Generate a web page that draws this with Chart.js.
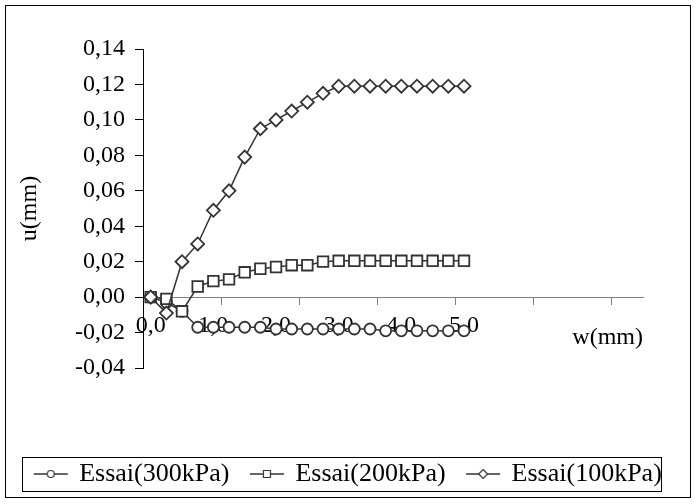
<!DOCTYPE html>
<html>
<head>
<meta charset="utf-8">
<script src="https://cdn.jsdelivr.net/npm/chart.js@4.4.1/dist/chart.umd.min.js"></script>
<style>
  html, body { margin: 0; padding: 0; background: #fff; }
  #wrap { width: 696px; height: 504px; }
</style>
</head>
<body>
<div id="wrap"><canvas id="chart" width="696" height="504"></canvas></div>
<script>
// horizontal displacement w (mm)
const wValues = [0, 0.25, 0.5, 0.75, 1.0, 1.25, 1.5, 1.75, 2.0, 2.25, 2.5,
                 2.75, 3.0, 3.25, 3.5, 3.75, 4.0, 4.25, 4.5, 4.75, 5.0];
// vertical displacement u (mm) per normal stress
const u300 = [0, -0.003, -0.008, -0.017, -0.017, -0.017, -0.017, -0.017, -0.018, -0.018, -0.018,
              -0.018, -0.018, -0.018, -0.018, -0.019, -0.019, -0.019, -0.019, -0.019, -0.019];
const u200 = [0, -0.001, -0.008, 0.006, 0.009, 0.010, 0.014, 0.016, 0.017, 0.018, 0.018,
              0.020, 0.0205, 0.0205, 0.0205, 0.0205, 0.0205, 0.0205, 0.0205, 0.0205, 0.0205];
const u100 = [0, -0.009, 0.020, 0.030, 0.049, 0.060, 0.079, 0.095, 0.100, 0.105, 0.110,
              0.115, 0.119, 0.119, 0.119, 0.119, 0.119, 0.119, 0.119, 0.119, 0.119];
const seriesNames = ['Essai(300kPa)', 'Essai(200kPa)', 'Essai(100kPa)'];

const xTickValues = [0, 1, 2, 3, 4, 5];
const xTickMarks = [0, 1, 2, 3, 4, 5, 6];
const yTickValues = [-0.04, -0.02, 0, 0.02, 0.04, 0.06, 0.08, 0.10, 0.12, 0.14];

const FONT = "'Liberation Serif', 'Times New Roman', serif";
const INK = '#333';
const AXIS_GREY = '#808080';

const toPoints = ys => wValues.map((w, i) => ({ x: w, y: ys[i] }));
const commaFmt = digits => v => Number(v).toFixed(digits).replace('.', ',');

// small line + marker sample for the legend
function legendMarker(style, r) {
  const c = document.createElement('canvas');
  c.width = 46; c.height = 16;
  const g = c.getContext('2d');
  g.strokeStyle = INK;
  g.lineWidth = 1.5;
  g.beginPath(); g.moveTo(7, 8); g.lineTo(41, 8); g.stroke();
  g.fillStyle = '#fff';
  g.lineWidth = 1.2;
  g.beginPath();
  if (style === 'circle') g.arc(24, 8, r, 0, Math.PI * 2);
  else if (style === 'rect') g.rect(24 - r, 8 - r, 2 * r, 2 * r);
  else { g.moveTo(24, 8 - r); g.lineTo(24 + r, 8); g.lineTo(24, 8 + r); g.lineTo(24 - r, 8); g.closePath(); }
  g.fill(); g.stroke();
  return c;
}
const legendMarkers = [legendMarker('circle', 3.5), legendMarker('rect', 3.5), legendMarker('diamond', 4.5)];

const framePlugin = {
  id: 'frame',
  beforeDraw(chart) {
    const { ctx, width, height } = chart;
    ctx.save();
    ctx.fillStyle = '#fff';
    ctx.fillRect(0, 0, width, height);
    ctx.strokeStyle = '#000';
    ctx.lineWidth = 1;
    ctx.strokeRect(5.5, 5.5, width - 11, height - 12);
    ctx.restore();
  },
  afterDraw(chart) {
    const boxes = chart.legend && chart.legend.legendHitBoxes;
    if (!boxes || !boxes.length) return;
    const first = boxes[0], last = boxes[boxes.length - 1];
    const ctx = chart.ctx;
    ctx.save();
    ctx.strokeStyle = '#000';
    ctx.lineWidth = 1;
    ctx.strokeRect(Math.round(first.left - 11) + 0.5, Math.round(first.top - 4) + 0.5,
                   Math.round(last.left + last.width - first.left + 10), Math.round(first.height + 8));
    ctx.restore();
  }
};

function series(label, data, style, radius, order) {
  return {
    label, data: toPoints(data), order,
    borderColor: INK, borderWidth: 1.5, tension: 0,
    pointStyle: style, pointRadius: radius, pointHoverRadius: radius,
    pointBackgroundColor: '#fff', pointBorderColor: INK, pointBorderWidth: 1.8
  };
}

new Chart(document.getElementById('chart'), {
  type: 'line',
  data: {
    datasets: [
      series(seriesNames[0], u300, 'circle', 5.5, 3),
      series(seriesNames[1], u200, 'rect', 7.5, 2),
      series(seriesNames[2], u100, 'rectRot', 6.5, 1)
    ]
  },
  options: {
    responsive: false,
    animation: false,
    events: [],
    layout: { padding: { left: 5, right: 6, top: 49, bottom: 7 } },
    plugins: {
      tooltip: { enabled: false },
      legend: {
        position: 'bottom',
        title: { display: true, text: '', padding: { top: 1, bottom: 0 }, font: { size: 60 } },
        labels: {
          usePointStyle: true,
          pointStyleWidth: 33,
          boxHeight: 16,
          padding: 20,
          color: '#000',
          font: { family: FONT, size: 26 },
          generateLabels: chart => chart.data.datasets.map((ds, i) => ({
            text: ds.label, datasetIndex: i, pointStyle: legendMarkers[i],
            fillStyle: '#fff', strokeStyle: INK, lineWidth: 0, hidden: false, fontColor: '#000'
          }))
        }
      }
    },
    scales: {
      x: {
        type: 'linear',
        position: { y: 0 },
        min: -0.123, max: 7.857,
        afterBuildTicks: s => { s.ticks = xTickValues.map(v => ({ value: v })); },
        grid: { display: false, drawTicks: false },
        border: { display: true, color: AXIS_GREY, width: 1 },
        ticks: { callback: commaFmt(1), color: '#000', font: { family: FONT, size: 24 },
                 padding: 14, maxRotation: 0, autoSkip: false }
      },
      x2: {
        type: 'linear',
        axis: 'x',
        position: { y: 0 },
        min: 0, max: 6.41,
        afterBuildTicks: s => { s.ticks = xTickMarks.map(v => ({ value: v })); },
        grid: { drawOnChartArea: false, drawTicks: true, tickLength: 8, color: AXIS_GREY },
        border: { display: false },
        ticks: { display: false },
        title: { display: true, text: 'w(mm)', align: 'end', color: '#000',
                 font: { family: FONT, size: 24 }, padding: { top: 18, bottom: 0 } }
      },
      y: {
        type: 'linear',
        position: 'left',
        min: -0.04, max: 0.14,
        afterBuildTicks: s => { s.ticks = yTickValues.map(v => ({ value: v })); },
        afterFit: s => { s.width = 138; },
        grid: { drawOnChartArea: false, drawTicks: true, tickLength: 8, color: '#000' },
        border: { display: true, color: '#000', width: 1 },
        ticks: { callback: commaFmt(2), color: '#000', font: { family: FONT, size: 24 }, padding: 10 },
        title: { display: true, text: 'u(mm)', color: '#000',
                 font: { family: FONT, size: 24 }, padding: { top: 10, bottom: 0 } }
      },
      // empty right-hand axis: keeps the plot narrower than the legend row
      yRight: {
        type: 'linear',
        position: 'right',
        afterFit: s => { s.width = 47; },
        grid: { display: false },
        border: { display: false },
        ticks: { display: false }
      }
    }
  },
  plugins: [framePlugin]
});
</script>
</body>
</html>
